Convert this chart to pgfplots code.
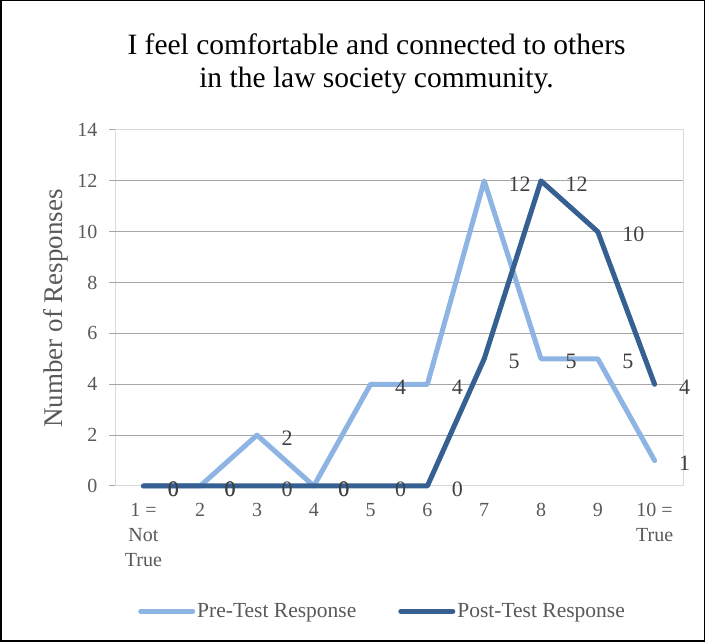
\documentclass[border=0pt]{standalone}
\usepackage{pgfplots}
\pgfplotsset{compat=1.18}
\usepackage{fontspec}
\setmainfont{Liberation Serif}
\definecolor{preblue}{HTML}{8EB4E3}
\definecolor{postblue}{HTML}{376092}
\definecolor{ticktext}{HTML}{595959}
\definecolor{labeltext}{HTML}{404040}
\definecolor{gridgray}{HTML}{A6A6A6}
\definecolor{axisgray}{HTML}{D9D9D9}
\begin{document}
\begin{tikzpicture}[x=1pt,y=1pt]
\path[use as bounding box] (0,0) rectangle (705,642);
\draw[line width=1.5pt] (0.75,0.75) rectangle (704.25,641.25);
\node[anchor=base, font=\fontsize{29.5}{33}\selectfont, text=black, inner sep=0pt] at (376.5,587) {I feel comfortable and connected to others};
\node[anchor=base, font=\fontsize{29.5}{33}\selectfont, text=black, inner sep=0pt] at (376.5,554) {in the law society community.};
\node[rotate=90, anchor=base, inner sep=0pt, font=\fontsize{27}{30}\selectfont, text=ticktext] at (62,333.5) {Number of Responses};
\begin{axis}[
  at={(115pt,156pt)}, anchor=south west,
  scale only axis, width=568pt, height=356pt,
  xmin=0.5, xmax=10.5, ymin=0, ymax=14,
  clip=false,
  axis line style={axisgray, line width=1pt},
  tick align=outside,
  major tick length=6pt,
  ytick pos=left,
  xtick style={draw=none},
  ytick style={gridgray, line width=1pt},
  xtick={1,...,10},
  xticklabels={{1 =\\Not\\True},2,3,4,5,6,7,8,9,{10 =\\True}},
  xticklabel style={align=center, font=\fontsize{20}{25}\selectfont, text=ticktext, yshift=-8pt},
  ytick={0,2,...,14},
  yticklabel style={font=\fontsize{20}{22}\selectfont, text=ticktext, xshift=-8pt},
  /pgf/number format/assume math mode=true,
  extra y ticks={2,4,...,12},
  extra y tick labels={},
  extra y tick style={grid=major, major grid style={gridgray, line width=1pt}},
  nodes near coords,
  every node near coord/.append style={anchor=west, xshift=22pt, yshift=-3pt, inner sep=0pt, font=\fontsize{22}{24}\selectfont, text=labeltext},
  legend style={at={(0.471,-0.352)}, anchor=center, draw=none, fill=none, legend columns=2,
    font=\fontsize{21.5}{24}\selectfont, text=ticktext, inner sep=0pt,
    /tikz/every even column/.append style={column sep=40pt}},
  legend cell align=left,
  legend image code/.code={\draw[#1, line cap=round] (2.5pt,0pt) -- (54.5pt,0pt);},
]
\addplot[preblue, line width=5pt, line cap=round, line join=round, mark=none] coordinates {
(1,0) (2,0) (3,2) (4,0) (5,4) (6,4) (7,12) (8,5) (9,5) (10,1)};
\addlegendentry{Pre-Test Response}
\addplot[postblue, line width=5pt, line cap=round, line join=round, mark=none] coordinates {
(1,0) (2,0) (3,0) (4,0) (5,0) (6,0) (7,5) (8,12) (9,10) (10,4)};
\addlegendentry{Post-Test Response}
\end{axis}
\end{tikzpicture}
\end{document}
